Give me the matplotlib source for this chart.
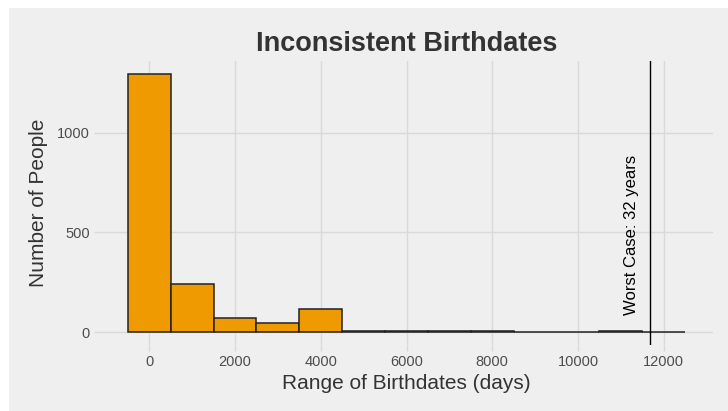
import matplotlib.pyplot as plt
from matplotlib.patches import Rectangle

plt.rcParams['font.family'] = ['Liberation Sans', 'DejaVu Sans']

# histogram bins (width 1000 days, centred on multiples of 1000)
bin_centers = [0, 1000, 2000, 3000, 4000, 5000, 6000, 7000, 8000, 9000, 10000, 11000, 12000]
counts = [1296, 241, 70, 45, 116, 4, 4, 4, 4, 0, 0, 4, 0]
worst_case = 11680  # 32 years in days
x_ticks = [0, 2000, 4000, 6000, 8000, 10000, 12000]
y_ticks = [0, 500, 1000]

bg = '#efefef'
fig = plt.figure(figsize=(7.28, 4.11), dpi=100)
fig.patch.set_facecolor('white')
# grey plot background with a thin white margin at left/top
fig.patches.append(Rectangle((9 / 728, -0.1), 2, 1.1 - 8 / 411, transform=fig.transFigure,
                             facecolor=bg, edgecolor='none', zorder=-10))

ax = fig.add_axes([100 / 728, 66 / 411, 613 / 728, 284 / 411])
ax.set_facecolor(bg)

ax.bar(bin_centers, counts, width=1000, color='#EE9A00', edgecolor='#222222',
       linewidth=1.1, zorder=3)
ax.axvline(worst_case, color='black', linewidth=1, zorder=4)
ax.text(worst_case - 420, 490, 'Worst Case: 32 years', rotation=90,
        ha='center', va='center', fontsize=12, color='black', zorder=5)

ax.set_xlim(-1150, 13150)
ax.set_ylim(-65, 1361)
ax.set_xticks(x_ticks)
ax.set_yticks(y_ticks)
ax.grid(True, color='#d9d9d9', linewidth=1, zorder=0)
for s in ax.spines.values():
    s.set_visible(False)
ax.tick_params(colors='#d9d9d9', labelcolor='#4d4d4d', labelsize=10.5, length=4, width=1)

ax.set_title('Inconsistent Birthdates', fontsize=19.5, fontweight='bold', color='#333333', pad=7)
ax.set_xlabel('Range of Birthdates (days)', fontsize=15, color='#333333', labelpad=3)
ax.set_ylabel('Number of People', fontsize=15, color='#333333', labelpad=6)

fig.savefig('out.png', dpi=100, facecolor='white')
